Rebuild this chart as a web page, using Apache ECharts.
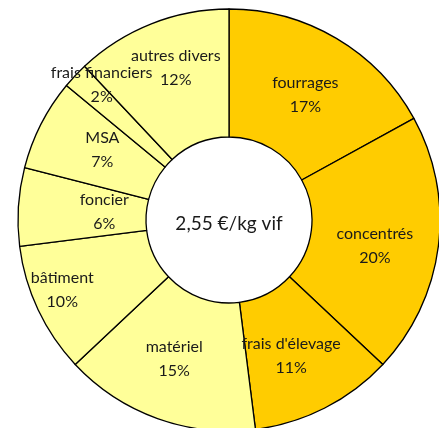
<!DOCTYPE html>
<html>
<head>
<meta charset="utf-8">
<script src="https://cdn.jsdelivr.net/npm/echarts@6/dist/echarts.min.js"></script>
<style>html,body{margin:0;padding:0;background:#fff}#c{width:439px;height:428px}</style>
</head>
<body>
<div id="c"></div>
<script>
const categories = ["fourrages","concentrés","frais d'élevage","matériel","bâtiment","foncier","MSA","frais financiers","autres divers"];
const values = [17, 20, 11, 15, 10, 6, 7, 2, 12];
const colors = ["#FFCC00","#FFCC00","#FFCC00","#FFFF99","#FFFF99","#FFFF99","#FFFF99","#FFFF99","#FFFF99"];
const labelOffsets = [[0,4],[-3,7.5],[-6,2.5],[-4,-2.5],[-31,6],[25,1],[7,-2],[-18,-32],[2,-13]];
const centerText = "2,55 €/kg vif";

const chart = echarts.init(document.getElementById('c'));
chart.setOption({
  animation: false,
  graphic: [{
    type: 'text', x: 229, y: 224,
    style: { text: centerText, font: '19px Lato', fill: '#1a1a1a', align: 'center', verticalAlign: 'middle' }
  }],
  series: [{
    type: 'pie',
    center: [229, 220],
    radius: [83, 211],
    startAngle: 90,
    clockwise: true,
    avoidLabelOverlap: false,
    labelLayout: { hideOverlap: false },
    minShowLabelAngle: 0,
    labelLine: { show: false },
    itemStyle: { borderColor: '#000', borderWidth: 1.3 },
    emphasis: { disabled: true },
    label: {
      show: true, position: 'inside',
      formatter: p => p.name + '\n' + p.value + '%',
      fontFamily: 'Lato', fontSize: 16, color: '#1a1a1a', lineHeight: 24
    },
    data: categories.map((n, i) => ({
      name: n, value: values[i],
      itemStyle: { color: colors[i] },
      label: { offset: labelOffsets[i] }
    }))
  }]
});
</script>
</body>
</html>
